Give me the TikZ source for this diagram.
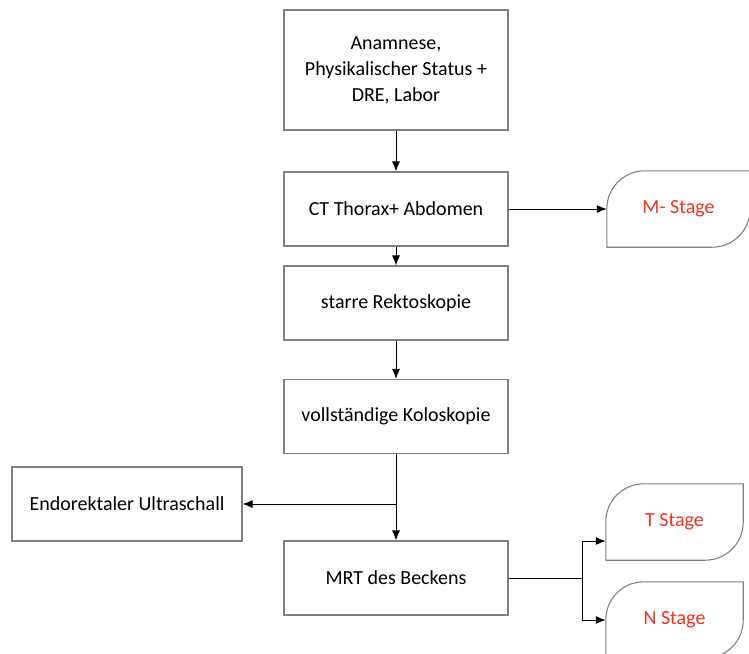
\documentclass[tikz,border=0pt]{standalone}
\usepackage{fontspec}
\setmainfont{Carlito}
\usetikzlibrary{arrows.meta}
\definecolor{boxgray}{RGB}{128,128,128}
\definecolor{stagered}{RGB}{238,52,36}
\begin{document}
\begin{tikzpicture}[x=1pt,y=-1pt,
	box/.style={draw=boxgray,line width=1.1pt,minimum width=224pt,minimum height=74pt,inner sep=0pt,align=center,font=\fontsize{20}{26}\selectfont},
	stage/.style={minimum width=137pt,minimum height=76pt,inner sep=0pt,text=stagered,font=\fontsize{20}{26}\selectfont},
	stageline/.style={draw=boxgray,line width=1.1pt},
	arr/.style={-{Latex[length=10pt,width=8pt]},line width=1pt},
	link/.style={line width=1pt}]
		\clip (0,0) rectangle (749,653);
		
		\node[box,minimum height=120pt] (anam) at (396,70) {Anamnese,\\Physikalischer Status +\\DRE, Labor};
		\node[box] (ct) at (396,209) {CT Thorax+ Abdomen};
		\node[box] (rekto) at (396,303) {starre Rektoskopie};
		\node[box] (kolo) at (396,416.5) {vollständige Koloskopie};
		\node[box] (mrt) at (396,578) {MRT des Beckens};
		\node[box,minimum width=230pt] (endo) at (127,504) {Endorektaler Ultraschall};
		
		\foreach \n/\t/\x/\y/\w in {mst/M- Stage/678.5/209/143, tst/T Stage/674.5/522/137, nst/N Stage/674.5/620/137}{
			\node[stage,minimum width=\w pt] (\n) at (\x,\y) {\t};
			\draw[stageline] (\n.south west) [rounded corners=38pt] -- (\n.north west) [sharp corners] -- (\n.north east) [rounded corners=38pt] -- (\n.south east) [sharp corners] -- cycle;
		}
		
		\draw[arr] (anam) -- (ct);
		\draw[arr] (ct) -- (rekto);
		\draw[arr] (rekto) -- (kolo);
		\draw[arr] (kolo) -- (mrt);
		\coordinate (split) at (kolo.south |- endo.east);
		\draw[arr] (split) -- (endo);
		\draw[arr] (ct) -- (mst);
		\coordinate (fork) at (582,578);
		\draw[link] (mrt) -- (fork);
		\draw[arr] (fork) |- ([yshift=-19pt]tst.west);
		\draw[arr] (fork) |- (nst.west);
\end{tikzpicture}
\end{document}
